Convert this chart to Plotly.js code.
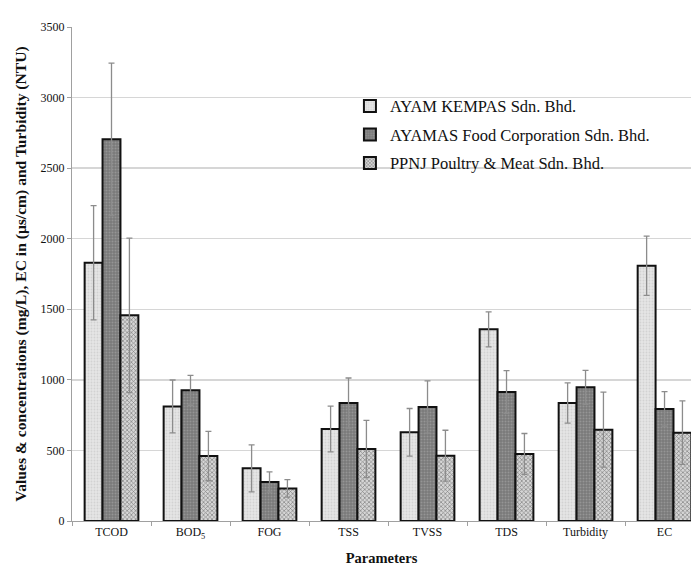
<!DOCTYPE html>
<html>
<head>
<meta charset="utf-8">
<script src="https://cdn.plot.ly/plotly-3.0.1.min.js"></script>
<style>html,body{margin:0;padding:0;background:#fff;}#chart{width:691px;height:578px;}</style>
</head>
<body>
<div id="chart"></div>
<script>
const categories = ["TCOD", "BOD<sub>5</sub>", "FOG", "TSS", "TVSS", "TDS", "Turbidity", "EC"];
const seriesNames = ["AYAM KEMPAS Sdn. Bhd.", "AYAMAS Food Corporation Sdn. Bhd.", "PPNJ Poultry & Meat Sdn. Bhd."];
const kempasValues = [1830, 812, 373, 652, 628, 1358, 836, 1809];
const kempasErrors = [405, 187, 167, 162, 169, 124, 143, 210];
const ayamasValues = [2704, 926, 276, 836, 808, 914, 947, 794];
const ayamasErrors = [540, 106, 72, 177, 185, 151, 120, 122];
const ppnjValues = [1457, 460, 231, 510, 463, 475, 647, 626];
const ppnjErrors = [547, 175, 62, 203, 180, 145, 266, 225];

const serif = "Liberation Serif";
const errStyle = (arr) => ({type: "data", array: arr, visible: true, color: "#8c8c8c", thickness: 1.3, width: 3});

const traces = [
  {name: seriesNames[0], x: categories, y: kempasValues, error_y: errStyle(kempasErrors), legendgroup: "a",
   marker: {color: "#e2e2e2", line: {color: "#111", width: 2},
            pattern: {shape: ".", bgcolor: "#e6e6e6", fgcolor: "#d2d2d2", size: 3, solidity: 0.3}}},
  {name: seriesNames[1], x: categories, y: ayamasValues, error_y: errStyle(ayamasErrors), legendgroup: "b",
   marker: {color: "#7a7a7a", line: {color: "#111", width: 2},
            pattern: {shape: ".", bgcolor: "#7a7a7a", fgcolor: "#959595", size: 3, solidity: 0.35}}},
  {name: seriesNames[2], x: categories, y: ppnjValues, error_y: errStyle(ppnjErrors), legendgroup: "c",
   marker: {color: "#b8b8b8", line: {color: "#111", width: 2},
            pattern: {shape: "x", bgcolor: "#d6d6d6", fgcolor: "#808080", size: 3, solidity: 0.4}}}
].map(t => Object.assign({type: "bar"}, t));

const layout = {
  width: 691, height: 578,
  margin: {l: 72, r: 0, t: 27, b: 57},
  paper_bgcolor: "#fff", plot_bgcolor: "#fff",
  barmode: "group", bargap: 0.32, bargroupgap: 0,
  font: {family: serif, color: "#111", size: 12},
  showlegend: true,
  legend: {x: 0.449, y: 0.875, xanchor: "left", yanchor: "top", bgcolor: "rgba(0,0,0,0)",
           font: {family: serif, size: 16.5, color: "#111"}, itemwidth: 30,
           traceorder: "grouped", tracegroupgap: 4},
  xaxis: {type: "category", range: [-0.5, 7.335], tickson: "boundaries", ticks: "outside", ticklen: 4,
          tickcolor: "#a0a0a0", showline: true, linecolor: "#a0a0a0", linewidth: 1, showgrid: false,
          tickfont: {family: serif, size: 12, color: "#111"},
          title: {text: "<b>Parameters</b>", font: {family: serif, size: 14.5, color: "#111"}, standoff: 12}},
  yaxis: {range: [0, 3500], dtick: 500, ticks: "outside", ticklen: 4, tickcolor: "#a0a0a0",
          showline: true, linecolor: "#a0a0a0", linewidth: 1, showgrid: true, gridcolor: "#d6d6d6", gridwidth: 1.5,
          zeroline: false, tickfont: {family: serif, size: 12, color: "#111"},
          title: {text: "<b>Values & concentrations (mg/L), EC in (μs/cm) and Turbidity (NTU)</b>",
                  font: {family: serif, size: 15.6, color: "#111"}, standoff: 10}}
};

Plotly.newPlot("chart", traces, layout, {displayModeBar: false, staticPlot: true});
</script>
</body>
</html>
